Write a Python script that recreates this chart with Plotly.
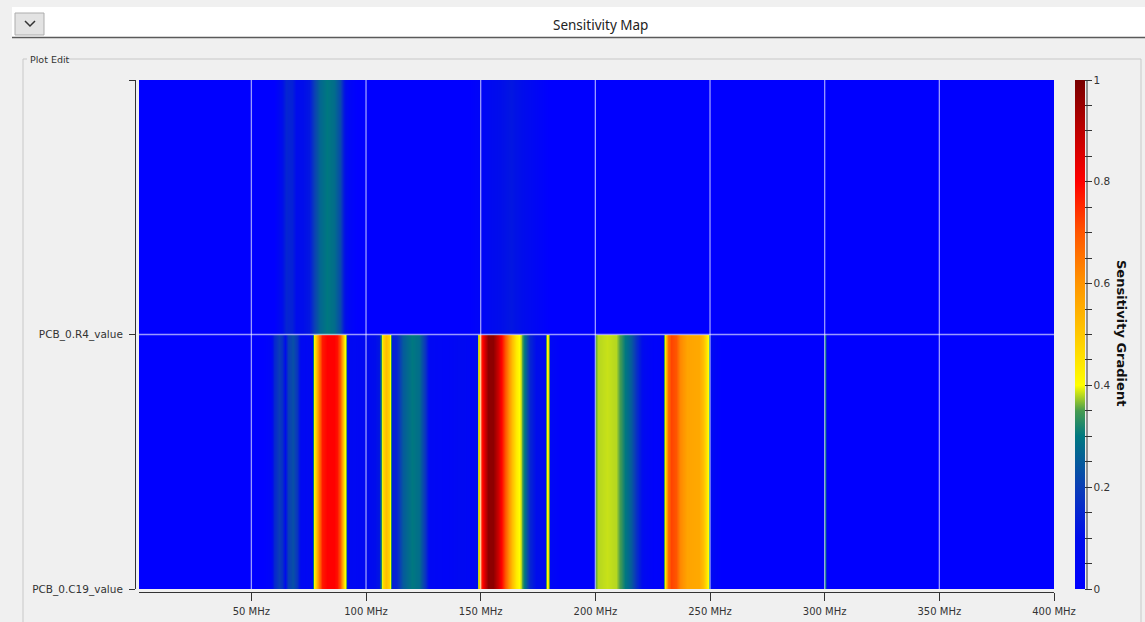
import plotly.graph_objects as go

# ---------------- data ----------------
# bottom row: PCB_0.C19_value  (frequency in MHz, sensitivity gradient)
freq_c19 = [1, 55, 58, 60, 62, 63.5, 64.5, 66, 68, 70, 71.5, 74, 76.5, 77.0, 77.4, 78.2,
            79.5, 81, 83, 86, 87.5, 88.7, 89.7, 90.5, 91.2, 91.8, 92.5, 96, 100, 104,
            105.8, 106.5, 107.2, 108.5, 109.8, 110.8, 111.5, 113, 116, 120, 123, 125.5,
            128, 135, 142, 146, 148.3, 148.8, 149.3, 150, 151.5, 153, 155.5, 157.5,
            159.5, 161.5, 163.5, 165.5, 167.5, 169.5, 171.5, 174, 178, 178.6, 179.2,
            179.8, 180.4, 184, 199.6, 200.2, 201, 205, 209, 211, 213, 215.5, 218, 221,
            225, 229.4, 229.9, 230.4, 231.5, 233, 235, 237, 240, 245, 247, 248.3, 249.1,
            249.6, 250.2, 255, 299.2, 300, 300.8, 400]
sens_c19 = [0.0, 0.0, 0.03, 0.15, 0.2, 0.17, 0.1, 0.2, 0.23, 0.18, 0.07, 0.06, 0.08, 0.3,
            0.42, 0.5, 0.65, 0.77, 0.8, 0.8, 0.78, 0.7, 0.58, 0.45, 0.36, 0.12, 0.07, 0.06,
            0.07, 0.1, 0.12, 0.32, 0.47, 0.52, 0.48, 0.32, 0.14, 0.15, 0.25, 0.3, 0.28, 0.18,
            0.06, 0.04, 0.07, 0.05, 0.1, 0.38, 0.5, 0.75, 0.85, 0.97, 0.97, 0.88, 0.78,
            0.65, 0.52, 0.44, 0.38, 0.28, 0.15, 0.1, 0.1, 0.35, 0.46, 0.35, 0.06, 0.02,
            0.02, 0.36, 0.38, 0.385, 0.38, 0.34, 0.3, 0.25, 0.16, 0.07, 0.02, 0.03, 0.35,
            0.45, 0.66, 0.72, 0.7, 0.62, 0.57, 0.56, 0.52, 0.46, 0.4, 0.3, 0.08, 0.0, 0.0,
            0.3, 0.0, 0.0]

# top row: PCB_0.R4_value
freq_r4 = [1, 60, 62.5, 65, 67.5, 69.5, 72, 75, 77.5, 80, 83, 86, 88.5, 90.5, 93, 96,
           145, 152, 158, 163, 168, 173, 180, 400]
sens_r4 = [0.0, 0.0, 0.08, 0.15, 0.14, 0.1, 0.1, 0.12, 0.2, 0.27, 0.3, 0.28, 0.22, 0.12,
           0.04, 0.0, 0.0, 0.06, 0.1, 0.12, 0.1, 0.06, 0.0, 0.0]

row_ticks = [0, 1, 2]
row_labels = ["PCB_0.C19_value", "PCB_0.R4_value", ""]
x_ticks = [50, 100, 150, 200, 250, 300, 350, 400]
x_tick_labels = ["50 MHz", "100 MHz", "150 MHz", "200 MHz", "250 MHz", "300 MHz",
                 "350 MHz", "400 MHz"]
cbar_ticks = [0, 0.05, 0.1, 0.15, 0.2, 0.25, 0.3, 0.35, 0.4, 0.45, 0.5, 0.55, 0.6,
              0.65, 0.7, 0.75, 0.8, 0.85, 0.9, 0.95, 1]
cbar_labels = ["0", "", "", "", "0.2", "", "", "", "0.4", "", "", "", "0.6", "", "", "",
               "0.8", "", "", "", "1"]

colorscale = [
    [0.0, "rgb(0,0,255)"],
    [0.1, "rgb(0,12,236)"],
    [0.2, "rgb(10,62,182)"],
    [0.3, "rgb(0,120,128)"],
    [0.35, "rgb(70,155,80)"],
    [0.4, "rgb(255,255,0)"],
    [0.5, "rgb(255,200,0)"],
    [0.6, "rgb(255,148,0)"],
    [0.7, "rgb(255,85,0)"],
    [0.8, "rgb(255,0,0)"],
    [0.9, "rgb(190,0,0)"],
    [1.0, "rgb(120,0,0)"],
]

# ---------------- layout geometry ----------------
W, H = 1145, 622
L, T, B = 135, 80, 30
R = W - 1054
PW = W - L - R      # 919
PH = H - T - B      # 512


def px(xp):
    return (xp - L) / PW


def py(yp):
    return (H - B - yp) / PH


FONT = "DejaVu Sans"

fig = go.Figure()
for r, (fx, sv) in enumerate([(freq_c19, sens_c19), (freq_r4, sens_r4)]):
    fig.add_trace(go.Heatmap(
        x=fx, y=[r + 0.25, r + 0.75], z=[sv, sv],
        coloraxis="coloraxis", zsmooth="best", hoverinfo="skip",
    ))

shapes = []
# grid lines (drawn above the heatmap)
for v in x_ticks[:-1]:
    shapes.append(dict(type="line", xref="x", yref="y", x0=v, x1=v, y0=0, y1=2,
                       line=dict(color="rgba(255,255,255,0.6)", width=1.3)))
shapes.append(dict(type="line", xref="x domain", yref="y", x0=0, x1=1, y0=1, y1=1,
                   line=dict(color="rgba(255,255,255,0.6)", width=1.3)))

# colorbar axis line
shapes.append(dict(type="line", xref="paper", yref="paper", x0=px(1087), x1=px(1087),
                   y0=py(80), y1=py(589), line=dict(color="#333", width=1)))

# GUI chrome: header bar
shapes.append(dict(type="rect", xref="paper", yref="paper", x0=px(12), x1=px(1146),
                   y0=py(7), y1=py(37), fillcolor="white", line=dict(width=0), layer="below"))
shapes.append(dict(type="line", xref="paper", yref="paper", x0=px(12), x1=px(1146),
                   y0=py(37.5), y1=py(37.5), line=dict(color="#5a5a5a", width=1.5)))
shapes.append(dict(type="rect", xref="paper", yref="paper", x0=px(15), x1=px(44),
                   y0=py(13), y1=py(35), fillcolor="#e3e3e3",
                   line=dict(color="#adadad", width=1)))
shapes.append(dict(type="path", xref="paper", yref="paper",
                   path="M %f %f L %f %f L %f %f" % (px(25), py(21), px(30), py(26),
                                                     px(35), py(21)),
                   line=dict(color="#333", width=1.5)))
# group box
gb = "#c8c8c8"
shapes.append(dict(type="line", xref="paper", yref="paper", x0=px(23), x1=px(23),
                   y0=py(59), y1=py(640), line=dict(color=gb, width=1)))
shapes.append(dict(type="line", xref="paper", yref="paper", x0=px(1141), x1=px(1141),
                   y0=py(59), y1=py(640), line=dict(color=gb, width=1)))
shapes.append(dict(type="line", xref="paper", yref="paper", x0=px(23), x1=px(27),
                   y0=py(59), y1=py(59), line=dict(color=gb, width=1)))
shapes.append(dict(type="line", xref="paper", yref="paper", x0=px(68), x1=px(1141),
                   y0=py(59), y1=py(59), line=dict(color=gb, width=1)))

annotations = [
    dict(text="Sensitivity Map", xref="paper", yref="paper", x=px(600), y=py(25),
         showarrow=False, font=dict(family="Noto Sans", size=13.5, color="#222"),
         xanchor="center", yanchor="middle"),
    dict(text="Plot Edit", xref="paper", yref="paper", x=px(28), y=py(59),
         showarrow=False, font=dict(family=FONT, size=9.5, color="#333"),
         xanchor="left", yanchor="middle"),
    dict(text="<b>Sensitivity Gradient</b>", xref="paper", yref="paper", x=px(1122),
         y=py(333), showarrow=False, textangle=90,
         font=dict(family=FONT, size=13, color="#111"),
         xanchor="center", yanchor="middle"),
]

fig.update_layout(
    width=W, height=H,
    margin=dict(l=L, r=R, t=T, b=B, pad=0, autoexpand=False),
    paper_bgcolor="#f0f0f0", plot_bgcolor="#0000ff",
    font=dict(family=FONT, size=10, color="#333"),
    showlegend=False,
    xaxis=dict(domain=[4 / PW, 1], anchor="free", position=0, range=[1, 400],
               tickvals=x_ticks, ticktext=x_tick_labels, showgrid=False, zeroline=False,
               showline=True, linecolor="#333", linewidth=1, ticks="outside", ticklen=8,
               tickcolor="#333", tickwidth=1, tickfont=dict(family=FONT, size=10, color="#333"),
               fixedrange=True, automargin=False, ticklabelstandoff=2),
    yaxis=dict(domain=[3 / PH, 1], anchor="free", position=0, range=[0, 2],
               tickvals=row_ticks, ticktext=row_labels, showgrid=False, zeroline=False,
               showline=True, linecolor="#333", linewidth=1, ticks="outside", ticklen=6,
               tickcolor="#333", tickwidth=1,
               tickfont=dict(family=FONT, size=10.5, color="#333"),
               fixedrange=True, automargin=False, ticklabelstandoff=4),
    coloraxis=dict(
        cmin=0, cmax=1, colorscale=colorscale,
        colorbar=dict(x=px(1075), xanchor="left", y=3 / PH, yanchor="bottom",
                      len=509 / PH, lenmode="fraction", thickness=10,
                      thicknessmode="pixels", outlinewidth=0, xpad=0, ypad=0,
                      tickvals=cbar_ticks, ticktext=cbar_labels, ticks="outside",
                      ticklen=7, tickcolor="#333", tickwidth=1,
                      tickfont=dict(family=FONT, size=10.5, color="#333")),
    ),
    shapes=shapes,
    annotations=annotations,
)

fig.write_html("out.html", config={"displayModeBar": False},
               post_script="document.body.style.margin='0px';")
